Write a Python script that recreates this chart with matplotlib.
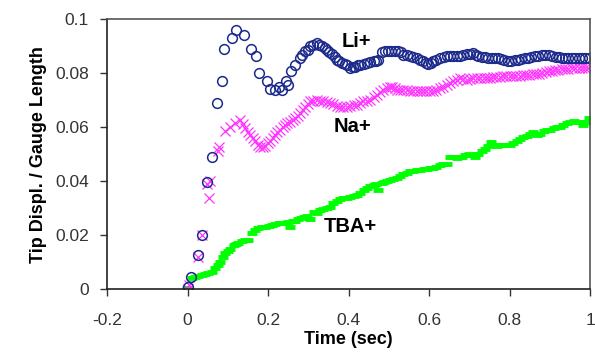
import matplotlib
matplotlib.use("Agg")
import matplotlib.pyplot as plt

# Li+ (open circles)
li_t = [0.0, 0.009, 0.025, 0.035, 0.048, 0.06, 0.073, 0.085, 0.091, 0.111, 0.12, 0.139,
        0.158, 0.17, 0.178, 0.197, 0.205, 0.217, 0.226, 0.235, 0.245, 0.25, 0.258, 0.267,
        0.278, 0.285, 0.292, 0.298, 0.304, 0.312, 0.321, 0.327, 0.333, 0.34, 0.346, 0.352,
        0.358, 0.365, 0.371, 0.377, 0.383, 0.39, 0.396, 0.404, 0.41, 0.416, 0.422, 0.429,
        0.437, 0.445, 0.453, 0.462, 0.468, 0.474, 0.482, 0.49, 0.498, 0.506, 0.514, 0.522,
        0.53, 0.536, 0.545, 0.553, 0.561, 0.569, 0.577, 0.585, 0.591, 0.598, 0.604, 0.61,
        0.618, 0.627, 0.636, 0.644, 0.652, 0.66, 0.668, 0.677, 0.685, 0.694, 0.702, 0.709,
        0.716, 0.722, 0.73, 0.738, 0.747, 0.755, 0.763, 0.771, 0.779, 0.787, 0.796, 0.804,
        0.812, 0.821, 0.829, 0.837, 0.846, 0.854, 0.862, 0.871, 0.879, 0.888, 0.897, 0.906,
        0.914, 0.922, 0.93, 0.938, 0.946, 0.955, 0.963, 0.971, 0.98, 0.988, 0.996]
li_y = [0.0007, 0.0044, 0.0127, 0.020, 0.0395, 0.049, 0.069, 0.077, 0.089, 0.093, 0.096, 0.094,
        0.089, 0.0864, 0.080, 0.077, 0.074, 0.0738, 0.075, 0.0736, 0.077, 0.0757, 0.0809, 0.083,
        0.0856, 0.0865, 0.088, 0.0885, 0.0899, 0.0905, 0.091, 0.0905, 0.0899, 0.0893, 0.0886, 0.0878,
        0.087, 0.086, 0.085, 0.0843, 0.0837, 0.0833, 0.083, 0.0819, 0.0822, 0.0824, 0.0828, 0.083,
        0.0833, 0.0837, 0.0840, 0.0843, 0.0846, 0.085, 0.0878, 0.088, 0.088, 0.088, 0.088, 0.088,
        0.0876, 0.0868, 0.0865, 0.0862, 0.0859, 0.0856, 0.085, 0.0843, 0.0838, 0.0833, 0.0838, 0.0843,
        0.085, 0.0856, 0.0859, 0.0862, 0.0862, 0.0862, 0.0862, 0.0862, 0.0866, 0.087, 0.0872, 0.0874,
        0.0868, 0.0862, 0.086, 0.0858, 0.0856, 0.0856, 0.0856, 0.0856, 0.0852, 0.0848, 0.0843, 0.0846,
        0.0848, 0.085, 0.0853, 0.0855, 0.0856, 0.0858, 0.0862, 0.0862, 0.0866, 0.0868, 0.0865, 0.0862,
        0.086, 0.0858, 0.0856, 0.0856, 0.0856, 0.0856, 0.0856, 0.0856, 0.0856, 0.0856, 0.0856]

# Na+ (crosses)
na_t = [0.0, 0.003, 0.025, 0.035, 0.048, 0.052, 0.055, 0.075, 0.079, 0.093, 0.106, 0.118,
        0.13, 0.137, 0.143, 0.149, 0.155, 0.162, 0.168, 0.174, 0.18, 0.187, 0.193, 0.199,
        0.205, 0.211, 0.217, 0.223, 0.23, 0.236, 0.242, 0.248, 0.255, 0.261, 0.267, 0.273,
        0.28, 0.286, 0.292, 0.298, 0.304, 0.312, 0.321, 0.329, 0.337, 0.345, 0.354, 0.362,
        0.371, 0.378, 0.386, 0.395, 0.404, 0.412, 0.42, 0.428, 0.436, 0.445, 0.453, 0.462,
        0.47, 0.478, 0.486, 0.494, 0.502, 0.507, 0.514, 0.52, 0.528, 0.536, 0.544, 0.553,
        0.561, 0.569, 0.577, 0.585, 0.593, 0.602, 0.61, 0.618, 0.627, 0.635, 0.644, 0.652,
        0.66, 0.668, 0.677, 0.685, 0.694, 0.702, 0.709, 0.718, 0.727, 0.735, 0.743, 0.751,
        0.759, 0.767, 0.775, 0.784, 0.792, 0.8, 0.808, 0.816, 0.825, 0.833, 0.841, 0.849,
        0.857, 0.865, 0.873, 0.881, 0.889, 0.897, 0.905, 0.913, 0.921, 0.929, 0.938, 0.946,
        0.955, 0.963, 0.971, 0.979, 0.987, 0.995]
na_y = [0.0, 0.0015, 0.012, 0.020, 0.039, 0.0339, 0.040, 0.051, 0.0528, 0.0586, 0.060, 0.0615,
        0.0625, 0.061, 0.0596, 0.058, 0.057, 0.0558, 0.0547, 0.0535, 0.0528, 0.0525, 0.053, 0.054,
        0.0547, 0.0558, 0.0571, 0.058, 0.059, 0.060, 0.0609, 0.0615, 0.062, 0.0626, 0.0633, 0.0642,
        0.0652, 0.0664, 0.0676, 0.0686, 0.0695, 0.0698, 0.0699, 0.0697, 0.0695, 0.0692, 0.0689, 0.0684,
        0.0679, 0.0676, 0.0674, 0.0676, 0.0679, 0.0681, 0.0683, 0.0689, 0.0695, 0.0698, 0.0701, 0.071,
        0.072, 0.073, 0.0738, 0.0744, 0.0748, 0.075, 0.0744, 0.0738, 0.0738, 0.0738, 0.0736, 0.0734,
        0.0734, 0.0733, 0.0732, 0.0732, 0.0733, 0.0734, 0.0734, 0.0739, 0.0744, 0.075, 0.0757, 0.0764,
        0.0771, 0.0776, 0.078, 0.0778, 0.0775, 0.0778, 0.078, 0.078, 0.0783, 0.0782, 0.078, 0.0782,
        0.0784, 0.0786, 0.0787, 0.0788, 0.0789, 0.079, 0.079, 0.079, 0.079, 0.0791, 0.0793, 0.0794,
        0.0795, 0.0796, 0.0798, 0.08, 0.0803, 0.0806, 0.0809, 0.0812, 0.0813, 0.0814, 0.0815, 0.0816,
        0.0818, 0.0818, 0.0818, 0.0818, 0.0818, 0.0818]

# TBA+ (green dashes)
tba_t = [-0.002, 0.01, 0.018, 0.027, 0.035, 0.043, 0.051, 0.06, 0.068, 0.075, 0.081, 0.087,
         0.093, 0.1, 0.106, 0.114, 0.12, 0.126, 0.134, 0.143, 0.151, 0.159, 0.167, 0.176,
         0.184, 0.193, 0.201, 0.209, 0.217, 0.226, 0.234, 0.242, 0.25, 0.255, 0.261, 0.267,
         0.275, 0.282, 0.288, 0.296, 0.304, 0.313, 0.321, 0.329, 0.337, 0.345, 0.354, 0.362,
         0.371, 0.379, 0.387, 0.396, 0.404, 0.412, 0.42, 0.429, 0.437, 0.445, 0.453, 0.462,
         0.468, 0.474, 0.482, 0.488, 0.495, 0.503, 0.511, 0.52, 0.528, 0.536, 0.545, 0.553,
         0.561, 0.57, 0.578, 0.586, 0.594, 0.602, 0.61, 0.618, 0.627, 0.635, 0.643, 0.652,
         0.66, 0.669, 0.675, 0.681, 0.689, 0.698, 0.706, 0.714, 0.722, 0.73, 0.739, 0.747,
         0.753, 0.76, 0.768, 0.776, 0.784, 0.792, 0.801, 0.809, 0.817, 0.826, 0.834, 0.842,
         0.851, 0.859, 0.867, 0.876, 0.884, 0.892, 0.901, 0.909, 0.917, 0.925, 0.933, 0.942,
         0.95, 0.959, 0.967, 0.975, 0.983, 0.99, 0.996]
tba_y = [0.0004, 0.004, 0.0045, 0.0049, 0.0053, 0.0057, 0.006, 0.0065, 0.0078, 0.009, 0.0102, 0.012,
         0.0133, 0.014, 0.0148, 0.0164, 0.0168, 0.0173, 0.0178, 0.0183, 0.0183, 0.021, 0.0218, 0.0226,
         0.0229, 0.0232, 0.0235, 0.0238, 0.0241, 0.0244, 0.0246, 0.0247, 0.0249, 0.0232, 0.0252, 0.0254,
         0.026, 0.0265, 0.0269, 0.0272, 0.0259, 0.0287, 0.0281, 0.0294, 0.0298, 0.0302, 0.0306, 0.0318,
         0.0326, 0.0333, 0.0336, 0.0338, 0.034, 0.0345, 0.035, 0.0356, 0.0366, 0.0375, 0.0383, 0.0386,
         0.039, 0.0368, 0.0393, 0.0396, 0.0399, 0.0403, 0.0407, 0.0411, 0.0418, 0.0425, 0.043, 0.0436,
         0.0438, 0.044, 0.0442, 0.0444, 0.0446, 0.0448, 0.045, 0.0454, 0.046, 0.0462, 0.0465, 0.0489,
         0.0489, 0.0485, 0.0489, 0.0489, 0.0495, 0.0501, 0.0495, 0.0489, 0.05, 0.051, 0.0519, 0.053,
         0.0543, 0.0535, 0.0531, 0.0533, 0.0534, 0.0534, 0.0534, 0.054, 0.0548, 0.0556, 0.0562, 0.0568,
         0.0574, 0.058, 0.0571, 0.0576, 0.0584, 0.059, 0.059, 0.0595, 0.06, 0.06, 0.0606, 0.0615,
         0.062, 0.0624, 0.0617, 0.0617, 0.0608, 0.062, 0.0633]

xticks = [-0.2, 0, 0.2, 0.4, 0.6, 0.8, 1]
xtick_labels = ["-0.2", "0", "0.2", "0.4", "0.6", "0.8", "1"]
yticks = [0, 0.02, 0.04, 0.06, 0.08, 0.1]
ytick_labels = ["0", "0.02", "0.04", "0.06", "0.08", "0.1"]

plt.rcParams['font.family'] = ['Liberation Sans', 'DejaVu Sans']

fig = plt.figure(figsize=(5.95, 3.58), dpi=100)
ax = fig.add_axes([0.18, 0.192, 0.812, 0.755])

ax.plot(tba_t, tba_y, linestyle='none', marker='_', markersize=7,
        markeredgewidth=3.5, color='#00ff00')
ax.plot(na_t, na_y, linestyle='none', marker='x', markersize=6.5,
        markeredgewidth=0.9, color='#ff33ff')
ax.plot(li_t, li_y, linestyle='none', marker='o', markersize=7,
        markerfacecolor='none', markeredgewidth=1.1, markeredgecolor='#1c2a8c')

ax.text(0.42, 0.0915, "Li+", fontsize=14.5, fontweight='bold', ha='center', va='center')
ax.text(0.41, 0.0603, "Na+", fontsize=14.5, fontweight='bold', ha='center', va='center')
ax.text(0.405, 0.0232, "TBA+", fontsize=14.5, fontweight='bold', ha='center', va='center')

ax.set_xlim(-0.2, 1)
ax.set_ylim(0, 0.1)
ax.set_xticks(xticks)
ax.set_xticklabels(xtick_labels)
ax.set_yticks(yticks)
ax.set_yticklabels(ytick_labels)
ax.tick_params(direction='out', length=5, width=1, labelsize=12.5, colors='#333333')
ax.tick_params(axis='x', pad=12)
ax.tick_params(axis='y', pad=8)

for s in ax.spines.values():
    s.set_color('#555555')
    s.set_linewidth(1.2)
ax.spines['left'].set_color('#222222')
ax.spines['bottom'].set_color('#222222')

ax.set_xlabel("Time (sec)", fontsize=13, fontweight='bold', labelpad=2)
ax.set_ylabel("Tip Displ. / Gauge Length", fontsize=13, fontweight='bold', labelpad=6)

fig.savefig("out.png", dpi=100)
